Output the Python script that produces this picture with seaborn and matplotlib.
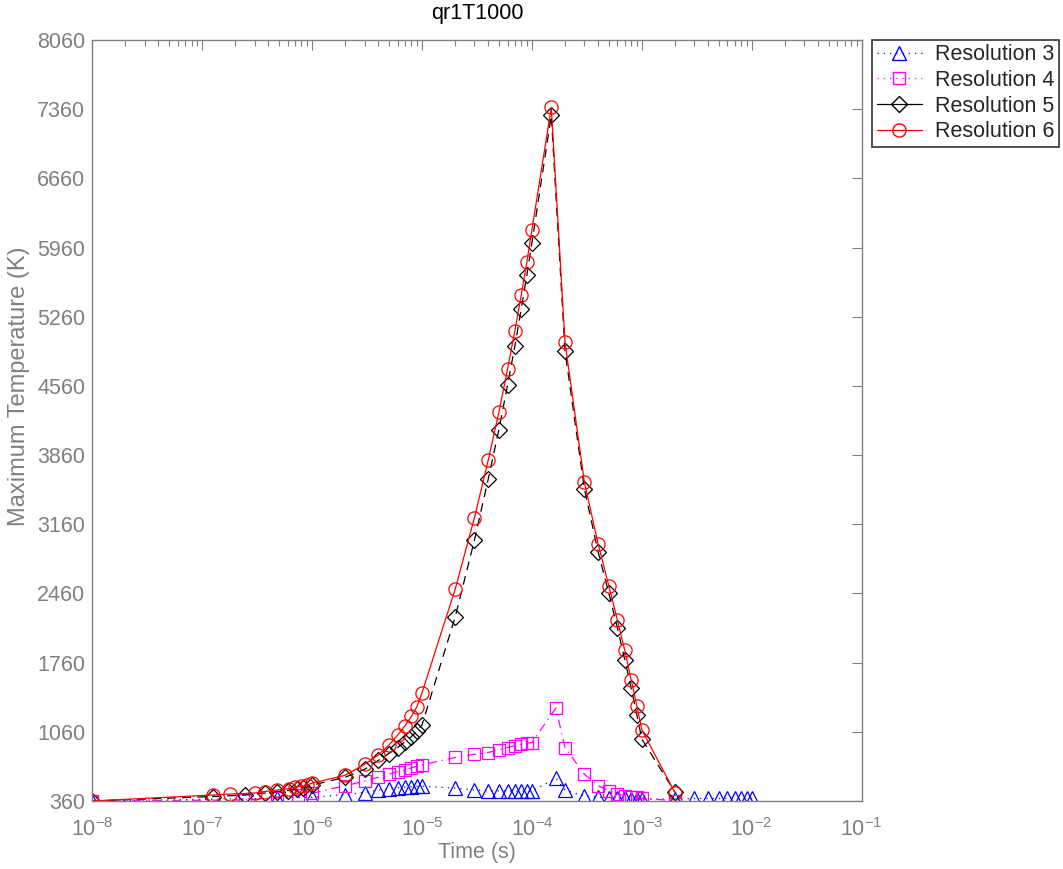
import numpy as np
import pandas as pd
import seaborn as sns
import matplotlib
matplotlib.use('Agg')
import matplotlib.pyplot as plt
from matplotlib.lines import Line2D

# values
res3_t = [1e-8, 4.8e-7, 1e-6, 2e-6, 3e-6, 4e-6, 5e-6, 6e-6, 7e-6, 8e-6, 9e-6, 1e-5,
          2e-5, 3e-5, 4e-5, 5e-5, 6e-5, 7e-5, 8e-5, 9e-5, 1e-4, 1.65e-4,
          2e-4, 3e-4, 4e-4, 5e-4, 6e-4, 7e-4, 8e-4, 9e-4, 1e-3, 2e-3,
          3e-3, 4e-3, 5e-3, 6e-3, 7e-3, 8e-3, 9e-3, 1e-2]
res3_T = [360, 387, 397, 425, 445, 470, 485, 495, 500, 505, 508, 510,
          490, 471, 464, 462, 461, 460, 460, 460, 460, 590,
          470, 410, 400, 392, 388, 385, 383, 382, 380, 378,
          385, 385, 385, 385, 385, 385, 385, 385]

res4_t = [1e-8, 2.45e-7, 4.8e-7, 7.5e-7, 1e-6, 2e-6, 3e-6, 4e-6, 5e-6, 6e-6, 7e-6, 8e-6, 9e-6, 1e-5,
          2e-5, 3e-5, 4e-5, 5e-5, 6e-5, 7e-5, 8e-5, 9e-5, 1e-4, 1.65e-4,
          2e-4, 3e-4, 4e-4, 5e-4, 6e-4, 7e-4, 8e-4, 9e-4, 1e-3, 2e-3]
res4_T = [360, 370, 390, 420, 438, 515, 560, 600, 630, 657, 675, 695, 710, 725,
          800, 832, 850, 877, 900, 921, 935, 945, 951, 1300,
          900, 630, 515, 465, 430, 414, 404, 396, 388, 362]

res5_t = [1e-8, 1.25e-7, 2.45e-7, 3.7e-7, 4.8e-7, 6e-7, 7.3e-7, 8.3e-7, 1e-6,
          2e-6, 3e-6, 4e-6, 5e-6, 6e-6, 7e-6, 8e-6, 9e-6, 1e-5,
          2e-5, 3e-5, 4e-5, 5e-5, 6e-5, 7e-5, 8e-5, 9e-5, 1e-4, 1.5e-4,
          2e-4, 3e-4, 4e-4, 5e-4, 6e-4, 7e-4, 8e-4, 9e-4, 1e-3, 2e-3]
res5_T = [360, 405, 420, 440, 455, 465, 480, 495, 520,
          600, 680, 770, 840, 900, 960, 1010, 1070, 1130,
          2218, 3000, 3615, 4115, 4568, 4965, 5339, 5683, 6008, 7296,
          4915, 3519, 2881, 2465, 2109, 1790, 1501, 1232, 986, 450]

res6_t = [1e-8, 1.25e-7, 1.8e-7, 3e-7, 3.7e-7, 4.8e-7, 6.2e-7, 7e-7, 8e-7, 9e-7, 1e-6,
          2e-6, 3e-6, 4e-6, 5e-6, 6e-6, 7e-6, 8e-6, 9e-6, 1e-5,
          2e-5, 3e-5, 4e-5, 5e-5, 6e-5, 7e-5, 8e-5, 9e-5, 1e-4, 1.5e-4,
          2e-4, 3e-4, 4e-4, 5e-4, 6e-4, 7e-4, 8e-4, 9e-4, 1e-3, 2e-3]
res6_T = [360, 420, 430, 440, 455, 470, 485, 500, 510, 520, 540,
          620, 730, 825, 925, 1025, 1120, 1215, 1315, 1455,
          2500, 3226, 3808, 4291, 4730, 5119, 5480, 5815, 6140, 7377,
          5001, 3588, 2962, 2540, 2187, 1883, 1587, 1323, 1080, 444]

labels = ['Resolution 3', 'Resolution 4', 'Resolution 5', 'Resolution 6']
y_ticks = [360, 1060, 1760, 2460, 3160, 3860, 4560, 5260, 5960, 6660, 7360, 8060]

sns.set_style('white')
plt.rcParams['font.family'] = ['Liberation Sans', 'DejaVu Sans']
plt.rcParams['mathtext.fontset'] = 'custom'
plt.rcParams['mathtext.rm'] = 'Liberation Sans'
plt.rcParams['mathtext.it'] = 'Liberation Sans:italic'
plt.rcParams['mathtext.bf'] = 'Liberation Sans:bold'

grey = '#808080'
fig = plt.figure(figsize=(10.63, 8.69), dpi=100)
ax = fig.add_axes([0.0868, 0.0783, 0.7238, 0.8757])
ax.set_xscale('log')

series = [
    (res3_t, res3_T, 'blue', (0, (1, 4)), '^', 9.5),
    (res4_t, res4_T, 'magenta', (0, (7, 4, 1, 4)), 's', 8.5),
    (res5_t, res5_T, 'black', (0, (7, 5)), 'D', 8),
    (res6_t, res6_T, 'red', '-', 'o', 9.5),
]
for (t, T, c, ls, m, ms), lab in zip(series, labels):
    df = pd.DataFrame({'time': t, 'temp': T})
    sns.lineplot(data=df, x='time', y='temp', ax=ax, color=c, linestyle=ls,
                 linewidth=0.9, marker=m, markersize=ms,
                 markerfacecolor='none', markeredgecolor=c, markeredgewidth=0.9,
                 sort=False, estimator=None, legend=False)

ax.set_xlim(1e-8, 1e-1)
ax.set_ylim(360, 8060)
ax.set_yticks(y_ticks)
ax.set_xticks([1e-8, 1e-7, 1e-6, 1e-5, 1e-4, 1e-3, 1e-2, 1e-1])
ax.tick_params(axis='both', which='both', direction='in', top=True, right=True,
               colors=grey, labelsize=15.5)
ax.tick_params(axis='x', which='both', pad=12)
ax.tick_params(axis='y', which='both', pad=5)
ax.tick_params(which='major', length=7, width=0.8)
ax.tick_params(which='minor', length=4, width=0.8)
for s in ax.spines.values():
    s.set_color(grey)
    s.set_linewidth(1.0)

ax.set_xlabel('Time (s)', fontsize=15.5, color=grey, labelpad=1)
ax.set_ylabel('Maximum Temperature (K)', fontsize=17, color=grey)
ax.yaxis.set_label_coords(-0.081, 0.545)
ax.set_title('qr1T1000', fontsize=15.5, color='black', pad=15)

handles = [
    Line2D([], [], color='blue', linestyle=(0, (1, 4)), marker='^', markerfacecolor='none', markersize=9.5, linewidth=0.9),
    Line2D([], [], color='magenta', linestyle=(0, (1, 4)), marker='s', markerfacecolor='none', markersize=8.5, linewidth=0.9),
    Line2D([], [], color='black', linestyle='-', marker='D', markerfacecolor='none', markersize=8, linewidth=0.9),
    Line2D([], [], color='red', linestyle='-', marker='o', markerfacecolor='none', markersize=9.5, linewidth=0.9),
]
leg = ax.legend(handles, labels, loc='upper left', bbox_to_anchor=(1.014, 1.0),
                fontsize=15.5, frameon=True, fancybox=False, borderaxespad=0,
                handlelength=2.1, handletextpad=0.6, labelspacing=0.22,
                borderpad=0.2)
leg.get_frame().set_edgecolor('black')
leg.get_frame().set_linewidth(1.2)

fig.savefig('out.png', dpi=100)
